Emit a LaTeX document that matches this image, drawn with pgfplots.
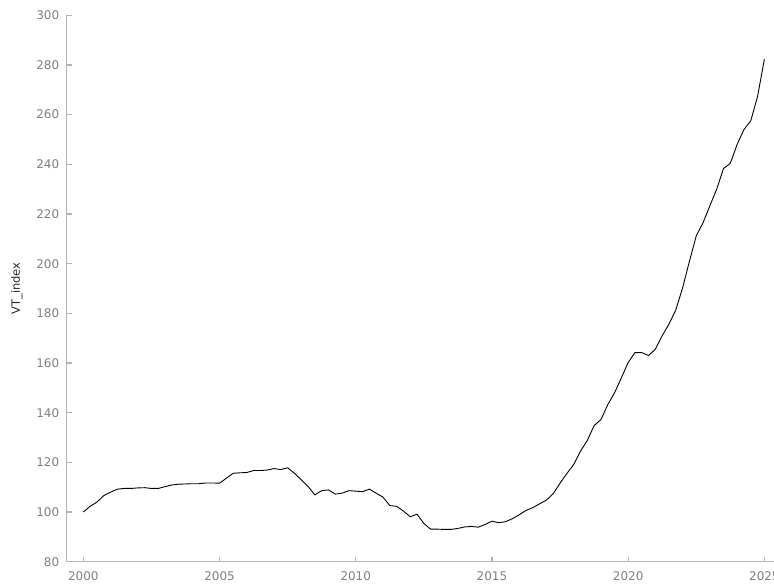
\documentclass[border=0pt]{standalone}
\usepackage{pgfplots}
\pgfplotsset{compat=1.18}
\usepackage{fontspec}
\setmainfont{DejaVu Sans}
\definecolor{axgray}{HTML}{B4B4B4}
\definecolor{tickgray}{HTML}{7F7F7F}
\begin{document}
\begin{tikzpicture}[x=1bp,y=1bp]
\begin{axis}[
  at={(0,0)}, anchor=south west,
  scale only axis,
  width=714bp, height=546.4bp,
  xmin=1999.39, xmax=2025.6,
  ymin=80, ymax=300,
  axis x line=bottom, axis y line=left,
  axis line style={-, draw=axgray, line width=1.3bp},
  tick style={draw=axgray, line width=1.2bp},
  tick align=inside,
  major tick length=5bp,
  xtick={2000,2005,2010,2015,2020,2025},
  ytick={80,100,...,300},
  xticklabels={2000,2005,2010,2015,2020,2025},
  /pgf/number format/assume math mode=true,
  ticklabel style={font=\fontsize{12}{13}\selectfont, text=tickgray},
  xticklabel style={yshift=-6bp},
  yticklabel style={xshift=-4bp},
  ylabel={VT\_index},
  every axis y label/.style={at={(axis description cs:0,0.5)}, xshift=-49.7bp, rotate=90, anchor=center, font=\fontsize{11.5}{13}\selectfont, text=black!85},
  clip=false,
]
\addplot[black, line width=0.9bp] table {
x y
2000.00 100
2000.25 102.3
2000.50 104.0
2000.75 106.6
2001.00 108.0
2001.25 109.2
2001.50 109.5
2001.75 109.5
2002.00 109.7
2002.25 109.8
2002.50 109.5
2002.75 109.5
2003.00 110.2
2003.25 110.9
2003.50 111.2
2003.75 111.3
2004.00 111.4
2004.25 111.4
2004.50 111.7
2004.75 111.7
2005.00 111.6
2005.25 113.6
2005.50 115.6
2005.75 115.8
2006.00 115.9
2006.25 116.7
2006.50 116.7
2006.75 116.9
2007.00 117.5
2007.25 117.1
2007.50 117.8
2007.75 115.6
2008.00 113.0
2008.25 110.3
2008.50 106.9
2008.75 108.6
2009.00 108.9
2009.25 107.2
2009.50 107.6
2009.75 108.6
2010.00 108.4
2010.25 108.2
2010.50 109.2
2010.75 107.6
2011.00 106.0
2011.25 102.6
2011.50 102.3
2011.75 100.4
2012.00 98.1
2012.25 99.1
2012.50 95.4
2012.75 93.1
2013.00 93.1
2013.25 93.0
2013.50 93.0
2013.75 93.4
2014.00 94.0
2014.25 94.2
2014.50 93.9
2014.75 95.0
2015.00 96.3
2015.25 95.7
2015.50 96.1
2015.75 97.3
2016.00 98.9
2016.25 100.6
2016.50 101.8
2016.75 103.3
2017.00 104.8
2017.25 107.4
2017.50 111.6
2017.75 115.5
2018.00 119.1
2018.25 124.5
2018.50 128.8
2018.75 134.8
2019.00 137.2
2019.25 143.2
2019.50 148.0
2019.75 154.0
2020.00 160.2
2020.25 164.2
2020.50 164.2
2020.75 163.0
2021.00 165.6
2021.25 171.0
2021.50 175.7
2021.75 181.4
2022.00 190.3
2022.25 201.0
2022.50 211.2
2022.75 216.5
2023.00 223.3
2023.25 230.0
2023.50 238.3
2023.75 240.4
2024.00 248.0
2024.25 254.0
2024.50 257.5
2024.75 267.3
2025.00 282.3
};
\end{axis}
\pgfresetboundingbox
\useasboundingbox (-66.7,-23.3) rectangle (707.3,561.7);
\end{tikzpicture}
\end{document}
